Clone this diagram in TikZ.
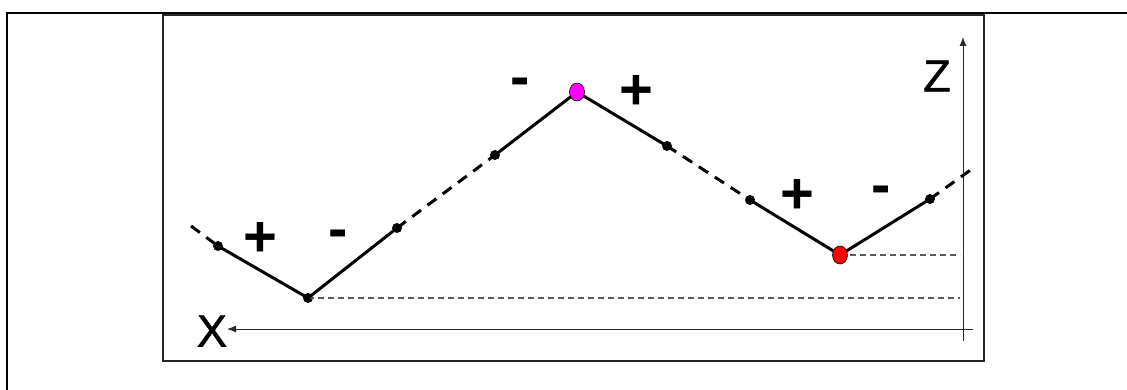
\documentclass[tikz,border=0pt]{standalone}
\usepackage{fontspec}
\setmainfont{Liberation Sans}
\usetikzlibrary{arrows.meta,positioning,shapes.geometric}
\definecolor{peakC}{RGB}{255,0,255}
\definecolor{lowC}{RGB}{255,0,0}
\definecolor{guideC}{RGB}{90,90,90}
\begin{document}
\begin{tikzpicture}[x=1pt,y=-1pt,>=Latex,
  pt/.style={circle,fill=black,inner sep=0pt,minimum size=10pt},
  ext/.style={ellipse,draw=black,line width=0.6pt,inner sep=0pt,minimum width=15pt,minimum height=18pt},
  seg/.style={line width=3pt},
  gap/.style={line width=3pt,dash pattern=on 11pt off 8pt},
  guide/.style={guideC,line width=1.3pt,dash pattern=on 6pt off 4pt},
  sgn/.style={inner sep=0pt,font=\bfseries\fontsize{58}{58}\selectfont},
  ax/.style={black!85,line width=1pt},
  axlab/.style={inner sep=0pt,font=\fontsize{45}{45}\selectfont}]
\useasboundingbox (0,0) rectangle (1127,390);
% ================= frames =================
\draw[line width=1.6pt] (7,390) -- (7,13) -- (1127,13);
\draw[line width=2pt,black!85] (163,15) rectangle (984,361);
% ================= axes =================
\coordinate (zlo) at (963,341);
\coordinate (ztop) at (963,37);
\coordinate (xr) at (973,329);
\coordinate (xl) at (227,329);
\draw[ax,-{Latex[length=9pt,width=7pt]}] (zlo) -- (ztop);
\draw[ax,-{Latex[length=9pt,width=7pt]}] (xr) -- (xl);
\node[axlab] (zlab) at (937,76) {\addfontfeature{FakeBold=1.2}Z};
\node[axlab] (xlab) at (212,331) {\addfontfeature{FakeBold=1.2}X};
% ================= profile =================
\coordinate (start) at (191,226);
\coordinate (stop) at (972,169);
\node[pt] (a1) at (218,246) {};
\node[pt] (m1) at (308,298) {};
\node[pt] (a2) at (397,228) {};
\node[pt] (a3) at (495,155) {};
\node[pt] (a4) at (667,146) {};
\node[pt] (a5) at (750,200) {};
\node[pt] (a6) at (930,199) {};
\coordinate (top) at (577,92);
\coordinate (low) at (840,255);
% levels of the two minima
\coordinate (lv) at (960,0);
\draw[guide] (m1.center) -- (m1.center -| lv);
\draw[guide] (low) -- (low -| lv);
% solid and dashed stretches
\draw[gap] (start) -- (a1.center);
\draw[seg] (a1.center) -- (m1.center) -- (a2.center);
\draw[gap] (a2.center) -- (a3.center);
\draw[seg] (a3.center) -- (top) -- (a4.center);
\draw[gap] (a4.center) -- (a5.center);
\draw[seg] (a5.center) -- (low) -- (a6.center);
\draw[gap] (a6.center) -- (stop);
\node[ext,fill=peakC] (peak) at (top) {};
\node[ext,fill=lowC] (dip) at (low) {};
% ================= signs =================
\node[sgn] (s1) at (260,239) {+};
\node[sgn] (s2) at (338,239) {-};
\node[sgn] (s3) at (520,87) {-};
\node[sgn] (s4) at (636,92) {+};
\node[sgn] (s5) at (797,196) {+};
\node[sgn] (s6) at (881,195) {-};
\end{tikzpicture}
\end{document}
